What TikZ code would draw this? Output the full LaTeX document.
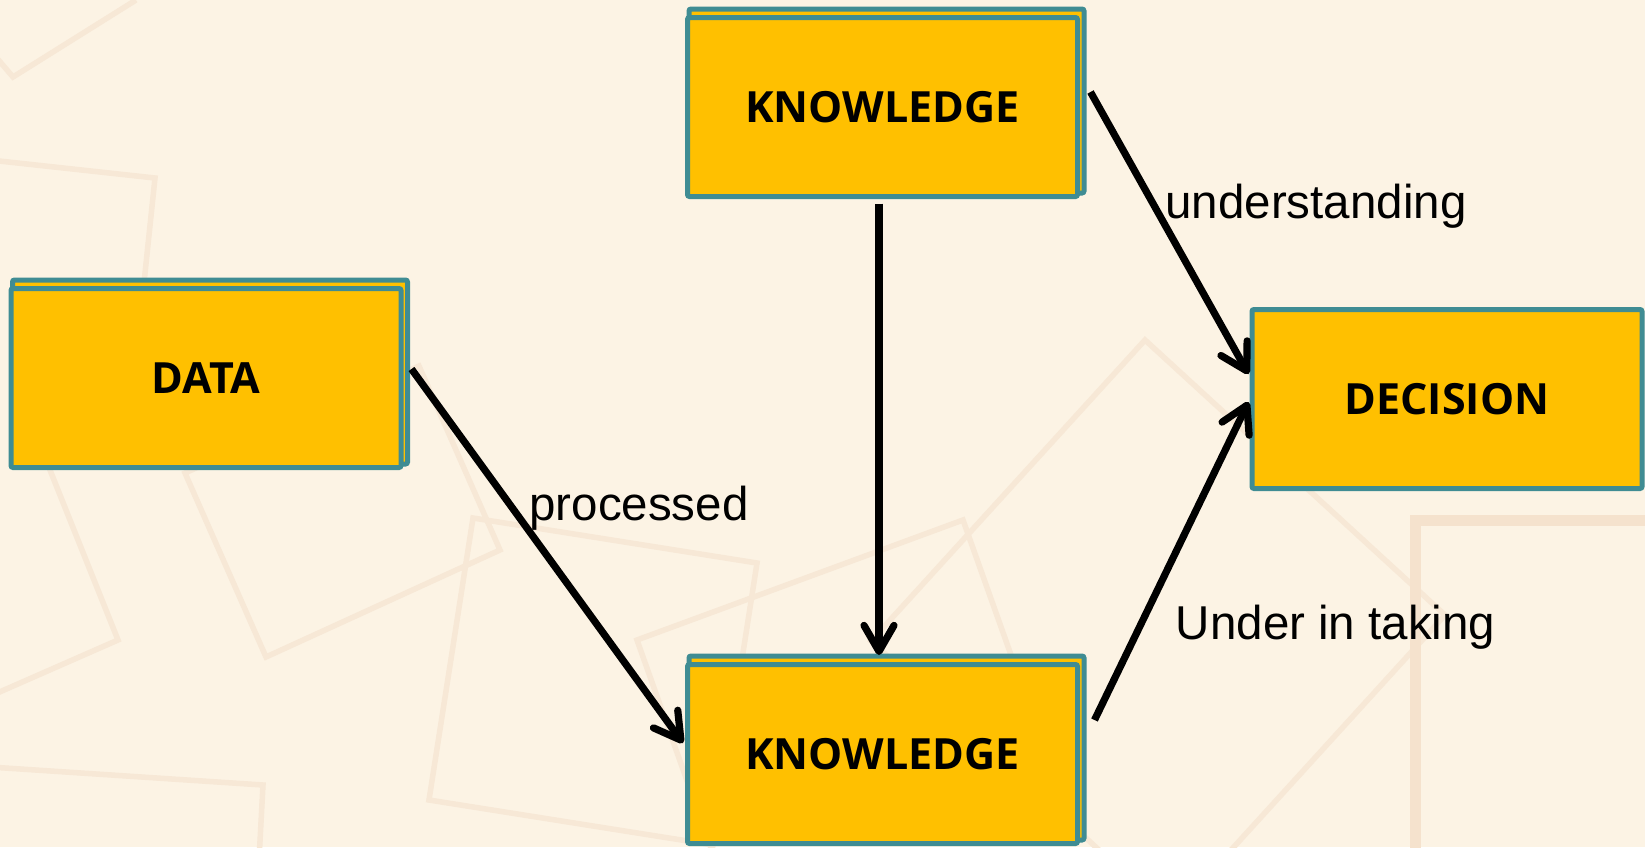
\documentclass[tikz,border=0pt]{standalone}
\usepackage{fontspec}
\setmainfont{Liberation Sans}
\newfontfamily\cardfont{Open Sans}
\usetikzlibrary{arrows.meta}

\definecolor{paper}{HTML}{FCF3E4}
\definecolor{cardfill}{HTML}{FFC000}
\definecolor{cardedge}{HTML}{3F8C93}
\definecolor{decor}{HTML}{F7E8D6}
\definecolor{decordark}{HTML}{F5E2CD}

\pgfdeclarelayer{paperlayer}
\pgfdeclarelayer{cardback}
\pgfsetlayers{paperlayer,cardback,main}

\tikzset{
  card/.style={draw=cardedge, fill=cardfill, line width=2.5pt,
    minimum width=195pt, minimum height=89.5pt, inner sep=0pt,
    rounded corners=1pt,
    font=\cardfont\bfseries\fontsize{21.5}{26}\selectfont},
  cardcopy/.style={draw=cardedge, fill=cardfill, line width=2.5pt,
    rounded corners=1pt},
  flow/.style={line width=3.6pt,
    -{Straight Barb[length=13pt, width=15pt, round]}},
  edgelabel/.style={inner sep=0pt, anchor=base west,
    font=\fontsize{23.75}{28}\selectfont},
  pattern/.style={draw=decor, line width=2.75pt, line join=miter},
}

\begin{document}
\begin{tikzpicture}[x=0.5pt, y=-0.5pt]
  \path[use as bounding box] (0,0) rectangle (1645,847);

  % paper and faint geometric outlines
  \begin{pgfonlayer}{paperlayer}
    \fill[paper] (0,0) rectangle (1645,847);
    \begin{scope}
      \clip (0,0) rectangle (1645,847);
      \draw[pattern] (136,0) -- (13,77) -- (-10,50);
      \draw[pattern] (-10,160) -- (155,178) -- (138,340);
      \draw[pattern] (30,420) -- (118,640) -- (-30,705);
      \draw[pattern] (419,366) -- (185,473) -- (266,657) -- (500,550) -- cycle;
      \draw[pattern] (473,518) -- (757,563) -- (713,845) -- (429,800) -- cycle;
      \draw[pattern] (-10,767) -- (263,785) -- (259,860);
      \draw[pattern] (749,955) -- (637,640) -- (963,520) -- (1075,835);
      \draw[pattern] (1145,340) -- (1445,615) -- (1171,916) -- (871,641) -- cycle;
      \draw[pattern, draw=decordark, line width=5.5pt]
        (1415,870) -- (1415,520) -- (1670,520);
    \end{scope}
  \end{pgfonlayer}

  % cards
  \node[card] (k1)   at (882.5,107) {KNOWLEDGE};
  \node[card] (data) at (206,378)   {DATA};
  \node[card] (k2)   at (882.5,754) {KNOWLEDGE};
  \node[card] (dec)  at (1447,399)  {DECISION};

  % stacked copies behind the doubled cards
  \begin{pgfonlayer}{cardback}
    \foreach \n in {k1,data,k2}
      \draw[cardcopy] ([shift={(4,-6)}]\n.south west)
        rectangle ([shift={(4,-6)}]\n.north east);
  \end{pgfonlayer}

  % connectors
  \draw[flow] ([shift={(8,-9)}]data.east) -- ([shift={(-2,-11)}]k2.west);
  \draw[flow] ([shift={(-3.5,4.5)}]k1.south) -- ([shift={(-3.5,-7)}]k2.north);
  \draw[flow] ([shift={(10.5,-15)}]k1.east) -- ([shift={(-1,-25)}]dec.west);
  \draw[flow] ([shift={(14.5,-34)}]k2.east) -- ([shift={(-1,3)}]dec.west);

  % connector labels
  \node[edgelabel] (lproc)  at (529,520)    {processed};
  \node[edgelabel] (lunder) at (1165,218)   {understanding};
  \node[edgelabel] (ltake)  at (1175.5,639) {Under in taking};
\end{tikzpicture}
\end{document}
